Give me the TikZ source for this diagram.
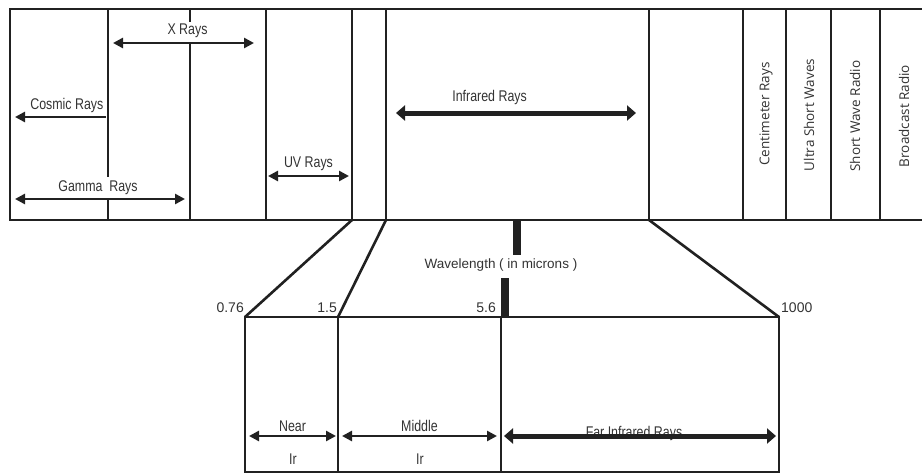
\documentclass[tikz,border=0pt]{standalone}
\usepackage{fontspec}
\setmainfont{Liberation Sans}
\newfontfamily\narrowfont[FakeStretch=0.8]{Liberation Sans}
\newfontfamily\bandfont{Open Sans}
\usetikzlibrary{arrows.meta}
\definecolor{ink}{gray}{0.13}
\definecolor{txt}{gray}{0.2}

\tikzset{
  frame/.style={draw=ink, line width=2.6pt},
  lbl/.style={text=txt, inner sep=1pt, font=\narrowfont\fontsize{15.5}{17}\selectfont},
  num/.style={text=txt, inner sep=0pt, font=\fontsize{14}{16}\selectfont},
  band/.style={text=txt, rotate=90, inner sep=0pt, font=\bandfont\fontsize{13.5}{16}\selectfont},
  dimarrow/.style={draw=ink, line width=2.5pt, {Triangle[length=10pt,width=10pt]}-{Triangle[length=10pt,width=10pt]}},
  onearrow/.style={draw=ink, line width=2.5pt, -{Triangle[length=10pt,width=10pt]}},
  bigarrow/.style={draw=ink, line width=5pt, {Triangle[length=9pt,width=15pt]}-{Triangle[length=9pt,width=15pt]}},
}

\begin{document}
\begin{tikzpicture}[x=1pt, y=-1pt]
  \useasboundingbox (0,0) rectangle (922,474);

  % spectrum band
  \draw[frame] (922,9) -- (10,9) -- (10,220) -- (922,220);
  \foreach \x in {266,352,386,649,743,786,831,880}
    \draw[frame] (\x,9) -- (\x,220);
  \draw[frame] (108,9) -- (108,177) (108,200) -- (108,220);
  \draw[frame] (190,9) -- (190,22) (190,43) -- (190,220);

  \coordinate (xL) at (113,43);   \coordinate (xR) at (254,43);
  \coordinate (cR) at (106,117);  \coordinate (cL) at (15,117);
  \coordinate (gL) at (15,199);   \coordinate (gR) at (185,199);
  \coordinate (uL) at (268,176);  \coordinate (uR) at (349,176);
  \coordinate (iL) at (396,113);  \coordinate (iR) at (636,113);

  \draw[dimarrow] (xL) -- node[lbl, above=3pt, xshift=4pt] {X Rays} (xR);
  \draw[onearrow] (cR) -- node[lbl, above=2pt, pos=0.43] {Cosmic Rays} (cL);
  \draw[dimarrow] (gL) -- node[lbl, above=2pt, xshift=-2pt] {Gamma~ Rays} (gR);
  \draw[dimarrow] (uL) -- node[lbl, above=3pt] {UV Rays} (uR);
  \draw[bigarrow] (iL) -- node[lbl, above=5pt, pos=0.39] {Infrared Rays} (iR);

  \node[band] (cm) at (766,114) {Centimeter Rays};
  \node[band] (us) at (809,115) {Ultra Short Waves};
  \node[band] (sw) at (855,116) {Short Wave Radio};
  \node[band] (br) at (904,116) {Broadcast Radio};

  % infrared close-up
  \coordinate (irA) at (352,220);
  \coordinate (irB) at (386,220);
  \coordinate (irC) at (649,220);
  \coordinate (n0) at (245,317);
  \coordinate (n1) at (338,317);
  \coordinate (n2) at (501,317);
  \coordinate (n3) at (779,317);

  \draw[frame] (irA) -- (n0) (irB) -- (n1) (irC) -- (n3);
  \draw[frame] (n0) rectangle (779,472);
  \draw[frame] (n1) -- (338,472) (n2) -- (501,472);

  \fill[ink] (513,221) rectangle (521,255);
  \fill[ink] (501,278) rectangle (509,317);
  \node[lbl, font=\fontsize{13.5}{16}\selectfont] (wl) at (501,265) {Wavelength ( in microns )};

  \node[num, anchor=east] (v0) at (244,308) {0.76};
  \node[num, anchor=east] (v1) at (337,308) {1.5};
  \node[num, anchor=east] (v2) at (496,308) {5.6};
  \node[num, anchor=west] (v3) at (781,308) {1000};

  \coordinate (nL) at (249,436);  \coordinate (nR) at (336,436);
  \coordinate (mL) at (342,436);  \coordinate (mR) at (497,436);
  \coordinate (fL) at (504,436);  \coordinate (fR) at (776,436);

  \draw[dimarrow] (nL) -- node[lbl, above=2pt] {Near} (nR);
  \draw[dimarrow] (mL) -- node[lbl, above=2pt] {Middle} (mR);
  \node[lbl] (nir) at (293,459) {Ir};
  \node[lbl] (mir) at (420,459) {Ir};
  \node[lbl, anchor=base] (far) at (634,437) {Far Infrared Rays};
  \draw[bigarrow] (fL) -- (fR);
\end{tikzpicture}
\end{document}
